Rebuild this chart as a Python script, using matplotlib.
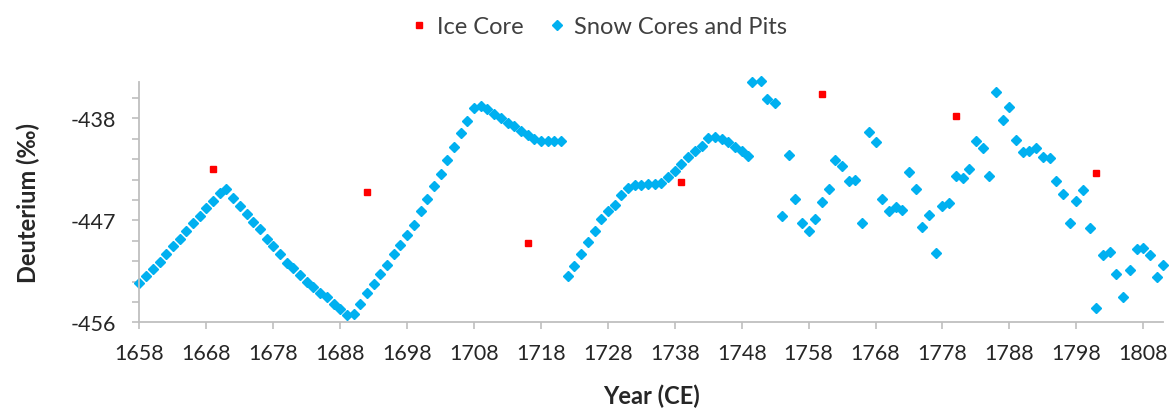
import numpy as np
import matplotlib
matplotlib.use("Agg")
import matplotlib.pyplot as plt
from matplotlib.ticker import FixedLocator

plt.rcParams['font.family'] = ['Lato', 'DejaVu Sans']
plt.rcParams['axes.unicode_minus'] = False

# ice core samples
ice_years = [1669, 1692, 1716, 1739, 1760, 1780, 1801]
ice_vals = [-442.5, -444.5, -449.0, -443.6, -435.8, -437.8, -442.8]

# snow cores and pits
snow_years = list(range(1658, 1750)) + [1749.6, 1750.9, 1751.8, 1753.0] + list(range(1754, 1812))
snow_vals = [
    -452.5, -451.9, -451.3, -450.7, -450.0, -449.3, -448.6, -447.9, -447.2, -446.6,
    -445.9, -445.3, -444.6, -444.2, -445.0, -445.7, -446.4, -447.1, -447.8, -448.6,
    -449.3, -450.0, -450.8, -451.2, -451.8, -452.4, -452.9, -453.4, -453.8, -454.4,
    -454.8, -455.4, -455.3, -454.4, -453.4, -452.6, -451.7, -450.9, -450.0, -449.2,
    -448.3, -447.4, -446.2, -445.1, -444.0, -442.9, -441.7, -440.5, -439.3, -438.2,
    -437.1, -436.9, -437.2, -437.6, -438.0, -438.4, -438.7, -439.1, -439.5, -439.8,
    -440.0, -440.0, -440.0, -440.0,
    -451.9, -451.0, -450.0, -448.9, -447.9, -446.9, -446.2, -445.6, -444.8, -444.1,
    -443.9, -443.9, -443.8, -443.8, -443.7, -443.2, -442.6, -442.0, -441.4, -440.9,
    -440.4, -439.7, -439.6, -439.8, -440.1, -440.5, -440.9, -441.3,
    -434.8, -434.7, -436.3, -436.6,
    -446.6, -441.2, -445.1, -447.2, -447.9, -446.9, -445.4, -444.2, -441.7, -442.2,
    -443.5, -443.4, -447.2, -439.2, -440.1, -445.1, -446.2, -445.8, -446.1, -442.7,
    -444.2, -447.6, -446.5, -449.9, -445.7, -445.5, -443.1, -443.3, -442.5, -440.0,
    -440.6, -443.1, -435.7, -438.1, -437.0, -439.9, -441.0, -440.9, -440.6, -441.4,
    -441.5, -443.5, -444.7, -447.2, -445.3, -444.3, -447.7, -454.7, -450.1, -449.8,
    -451.7, -453.8, -451.4, -449.5, -449.4, -450.1, -452.0, -450.9,
]

x_ticks = list(range(1658, 1809, 10))
y_ticks = [-456, -447, -438]

fig = plt.figure(figsize=(11.76, 4.10), dpi=100)
ax = fig.add_axes([0.1186, 0.2115, 0.8706, 0.5868])

ax.plot(ice_years, ice_vals, linestyle='none', marker='s', ms=4.8,
        color='#ff0000', mec='#ff0000', label='Ice Core', zorder=3, clip_on=False)
ax.plot(snow_years, snow_vals, linestyle='none', marker='D', ms=5.4,
        color='#00b0f0', mec='#00b0f0', label='Snow Cores and Pits', zorder=2,
        clip_on=False)

ax.set_xlim(1658, 1811)
ax.set_ylim(-456, -434.75)
ax.xaxis.set_major_locator(FixedLocator(x_ticks))
ax.yaxis.set_major_locator(FixedLocator(y_ticks))
ax.yaxis.set_minor_locator(FixedLocator(np.arange(-456, -434.7, 1.8)))

for s in ['top', 'right']:
    ax.spines[s].set_visible(False)
for s in ['left', 'bottom']:
    ax.spines[s].set_color('#bfbfbf')
    ax.spines[s].set_linewidth(1.3)

ax.tick_params(axis='both', which='both', direction='out', length=5,
               color='#bfbfbf', width=1.2, labelcolor='#262626', labelsize=15.5)
ax.tick_params(axis='x', pad=10)
ax.tick_params(axis='y', which='both', pad=12)

ax.set_xlabel('Year (CE)', fontsize=17, fontweight='bold', color='#262626')
ax.set_ylabel('Deuterium (‰)', fontsize=17, fontweight='bold', color='#262626')
ax.xaxis.set_label_coords(0.5, -0.255)
ax.yaxis.set_label_coords(-0.097, 0.5)

fig.legend(loc='center', bbox_to_anchor=(0.509, 0.932), ncol=2, frameon=False,
           fontsize=17, labelcolor='#404040', handlelength=0.8, handletextpad=0.35,
           columnspacing=1.0, markerscale=0.9)

fig.savefig('out.png', dpi=100)
plt.close(fig)
